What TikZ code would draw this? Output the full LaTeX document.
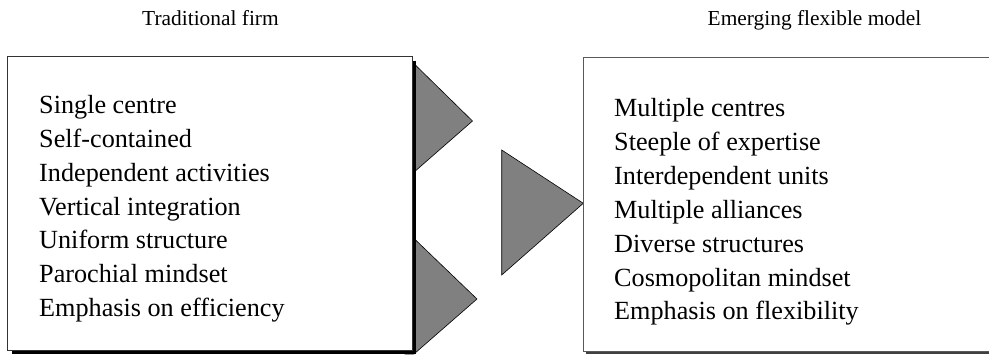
\documentclass[tikz,border=0pt]{standalone}
\usepackage{fontspec}
\setmainfont{Liberation Serif}
\begin{document}
\begin{tikzpicture}[x=1pt,y=-1pt,
  tri/.style={fill=black!50, draw=black, line width=0.6pt, line join=miter},
  frame/.style={inner sep=0pt, minimum height=293pt},
  titletext/.style={font=\fontsize{21.4}{25}\selectfont, anchor=base, inner sep=0pt},
  itemtext/.style={font=\fontsize{26.2}{32}\selectfont, anchor=base west, inner sep=0pt}]
\clip (0,0) rectangle (989,354);
\useasboundingbox (0,0) rectangle (989,354);
% triangles (behind the boxes)
\draw[tri] (405,62.7) -- (413,62.7) -- (472.5,121) -- (413,173) -- (405,173) -- cycle;
\draw[tri] (405,238.5) -- (414,238.5) -- (477,299) -- (414,354) -- (405,354) -- cycle;
\draw[tri] (501.7,150) -- (583.3,203.3) -- (501.7,275) -- cycle;
% left box
\node[frame, minimum width=404pt] (trad) at (210,203.5) {};
\fill[black] ([shift={(4,4)}]trad.north west) rectangle ([shift={(4,4)}]trad.south east);
\draw[draw=black!80, line width=0.9pt, fill=white] (trad.north west) rectangle (trad.south east);
% right box
\node[frame, minimum width=460pt] (flex) at (814,204.5) {};
\fill[black!75] ([shift={(2,2.5)}]flex.north west) rectangle ([shift={(2,2.5)}]flex.south east);
\draw[draw=black!65, line width=0.9pt, fill=white] (flex.north west) rectangle (flex.south east);
% titles
\node[titletext] (ttrad) at (210.5,25) {Traditional firm};
\node[titletext] (tflex) at (814.5,25) {Emerging flexible model};
% left items
\foreach \t [count=\i] in {Single centre,Self-contained,Independent activities,Vertical integration,Uniform structure,Parochial mindset,Emphasis on efficiency}
  \node[itemtext] (l\i) at (39,{113.3+33.9*(\i-1)}) {\t};
% right items
\foreach \t [count=\i] in {Multiple centres,Steeple of expertise,Interdependent units,Multiple alliances,Diverse structures,Cosmopolitan mindset,Emphasis on flexibility}
  \node[itemtext] (r\i) at (614,{116.5+33.9*(\i-1)}) {\t};
\end{tikzpicture}
\end{document}
